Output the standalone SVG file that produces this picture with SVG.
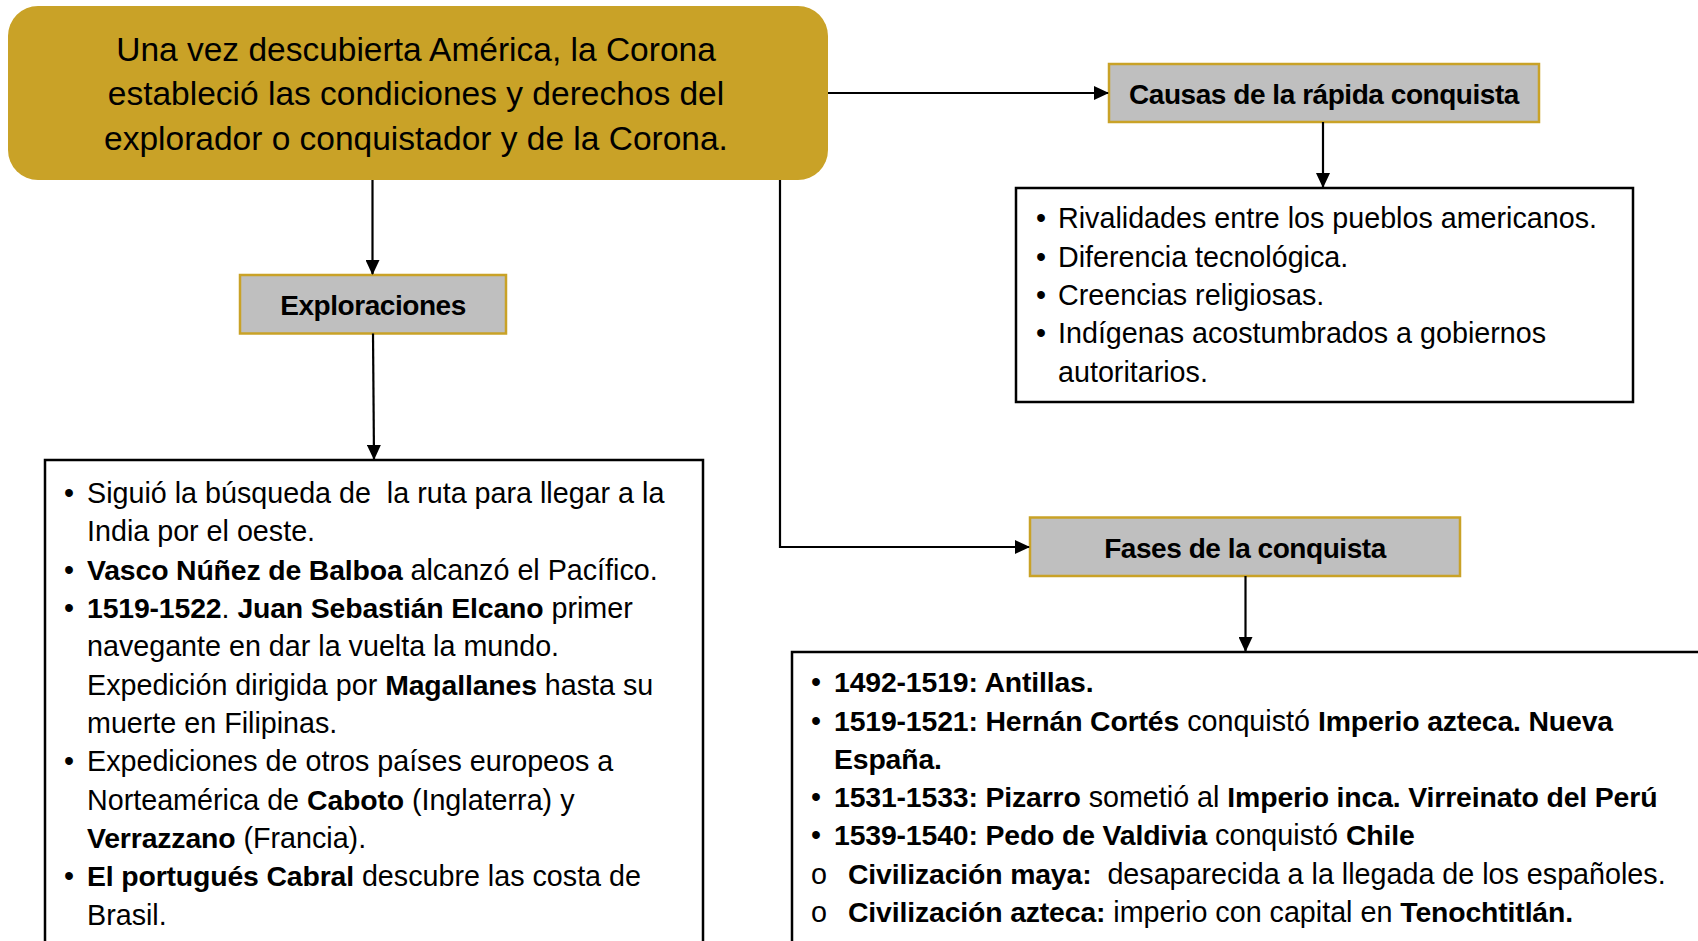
<svg xmlns="http://www.w3.org/2000/svg" width="1698" height="941" viewBox="0 0 1698 941">
<style>
text{font-family:'Liberation Sans',Arial,sans-serif;fill:#000}
.main{font-size:33.5px;text-anchor:middle}
.h{font-size:28px;font-weight:bold;letter-spacing:-0.45px;text-anchor:middle}
.t{font-size:28.7px}
.b{font-size:28.4px;font-weight:bold;letter-spacing:-0.15px}
.hbox{fill:#bfbfbf;stroke:#c9a227;stroke-width:2.5}
.lbox{fill:#fff;stroke:#000;stroke-width:2.5}
.conn path{fill:none;stroke:#000;stroke-width:2.2}
</style>
<defs>
<marker id="ah" markerUnits="userSpaceOnUse" markerWidth="16" markerHeight="14" refX="14" refY="7" orient="auto">
<path d="M0,0 L15,7 L0,14 Z" fill="#000"/>
</marker>
</defs>
<rect width="1698" height="941" fill="#fff"/>

<g id="main">
<rect x="8" y="6" width="820" height="174" rx="30" ry="30" fill="#c9a227"/>
<text class="main" x="416" y="61">Una vez descubierta América, la Corona</text>
<text class="main" x="416" y="105">estableció las condiciones y derechos del</text>
<text class="main" x="416" y="149.5">explorador o conquistador y de la Corona.</text>
</g>

<g id="causas">
<rect class="hbox" x="1109" y="64" width="430" height="58"/>
<text class="h" x="1324" y="104">Causas de la rápida conquista</text>
</g>

<g id="causas-list">
<rect class="lbox" x="1016" y="188" width="617" height="214"/>
<text class="t" x="1036" y="228">•</text><text class="t" x="1058" y="228">Rivalidades entre los pueblos americanos.</text>
<text class="t" x="1036" y="266.5">•</text><text class="t" x="1058" y="266.5">Diferencia tecnológica.</text>
<text class="t" x="1036" y="305">•</text><text class="t" x="1058" y="305">Creencias religiosas.</text>
<text class="t" x="1036" y="343">•</text><text class="t" x="1058" y="343">Indígenas acostumbrados a gobiernos</text>
<text class="t" x="1058" y="381.5">autoritarios.</text>
</g>

<g id="exploraciones">
<rect class="hbox" x="240" y="275" width="266" height="58.5"/>
<text class="h" x="373" y="315">Exploraciones</text>
</g>

<g id="exploraciones-list">
<rect class="lbox" x="45" y="460" width="658" height="500"/>
<text class="t" x="64" y="503">•</text><text class="t" x="87" y="503" xml:space="preserve">Siguió la búsqueda de  la ruta para llegar a la</text>
<text class="t" x="87" y="541">India por el oeste.</text>
<text class="t" x="64" y="579.5">•</text><text class="t" x="87" y="579.5"><tspan class="b">Vasco Núñez de Balboa</tspan> alcanzó el Pacífico.</text>
<text class="t" x="64" y="618">•</text><text class="t" x="87" y="618"><tspan class="b">1519-1522</tspan>. <tspan class="b">Juan Sebastián Elcano</tspan> primer</text>
<text class="t" x="87" y="656">navegante en dar la vuelta la mundo.</text>
<text class="t" x="87" y="694.5">Expedición dirigida por <tspan class="b">Magallanes</tspan> hasta su</text>
<text class="t" x="87" y="733">muerte en Filipinas.</text>
<text class="t" x="64" y="771">•</text><text class="t" x="87" y="771">Expediciones de otros países europeos a</text>
<text class="t" x="87" y="809.5">Norteamérica de <tspan class="b">Caboto</tspan> (Inglaterra) y</text>
<text class="t" x="87" y="848"><tspan class="b">Verrazzano</tspan> (Francia).</text>
<text class="t" x="64" y="886">•</text><text class="t" x="87" y="886"><tspan class="b">El portugués Cabral</tspan> descubre las costa de</text>
<text class="t" x="87" y="924.5">Brasil.</text>
</g>

<g id="fases">
<rect class="hbox" x="1030" y="517.5" width="430" height="58.5"/>
<text class="h" x="1245" y="557.5">Fases de la conquista</text>
</g>

<g id="fases-list">
<rect class="lbox" x="792" y="652" width="920" height="310"/>
<text class="t" x="811" y="691.5">•</text><text class="t" x="834" y="691.5"><tspan class="b">1492-1519: Antillas.</tspan></text>
<text class="t" x="811" y="730.5">•</text><text class="t" x="834" y="730.5"><tspan class="b">1519-1521: Hernán Cortés</tspan> conquistó <tspan class="b">Imperio azteca. Nueva</tspan></text>
<text class="t" x="834" y="768.5"><tspan class="b">España.</tspan></text>
<text class="t" x="811" y="807">•</text><text class="t" x="834" y="807"><tspan class="b">1531-1533: Pizarro</tspan> sometió al <tspan class="b">Imperio inca. Virreinato del Perú</tspan></text>
<text class="t" x="811" y="845">•</text><text class="t" x="834" y="845"><tspan class="b">1539-1540: Pedo de Valdivia</tspan> conquistó <tspan class="b">Chile</tspan></text>
<text class="t" x="811" y="883.5">o</text><text class="t" x="848" y="883.5" xml:space="preserve"><tspan class="b">Civilización maya:</tspan>  desaparecida a la llegada de los españoles.</text>
<text class="t" x="811" y="922">o</text><text class="t" x="848" y="922"><tspan class="b">Civilización azteca:</tspan> imperio con capital en <tspan class="b">Tenochtitlán.</tspan></text>
</g>

<g id="connectors" class="conn">
<path d="M828,93 L1108,93" marker-end="url(#ah)"/>
<path d="M1323,122 L1323,187" marker-end="url(#ah)"/>
<path d="M372.5,180 L372.5,274" marker-end="url(#ah)"/>
<path d="M373,333.5 L374,459" marker-end="url(#ah)"/>
<path d="M780,180 L780,547 L1029,547" marker-end="url(#ah)"/>
<path d="M1245.5,576 L1245.5,651" marker-end="url(#ah)"/>
</g>
</svg>
